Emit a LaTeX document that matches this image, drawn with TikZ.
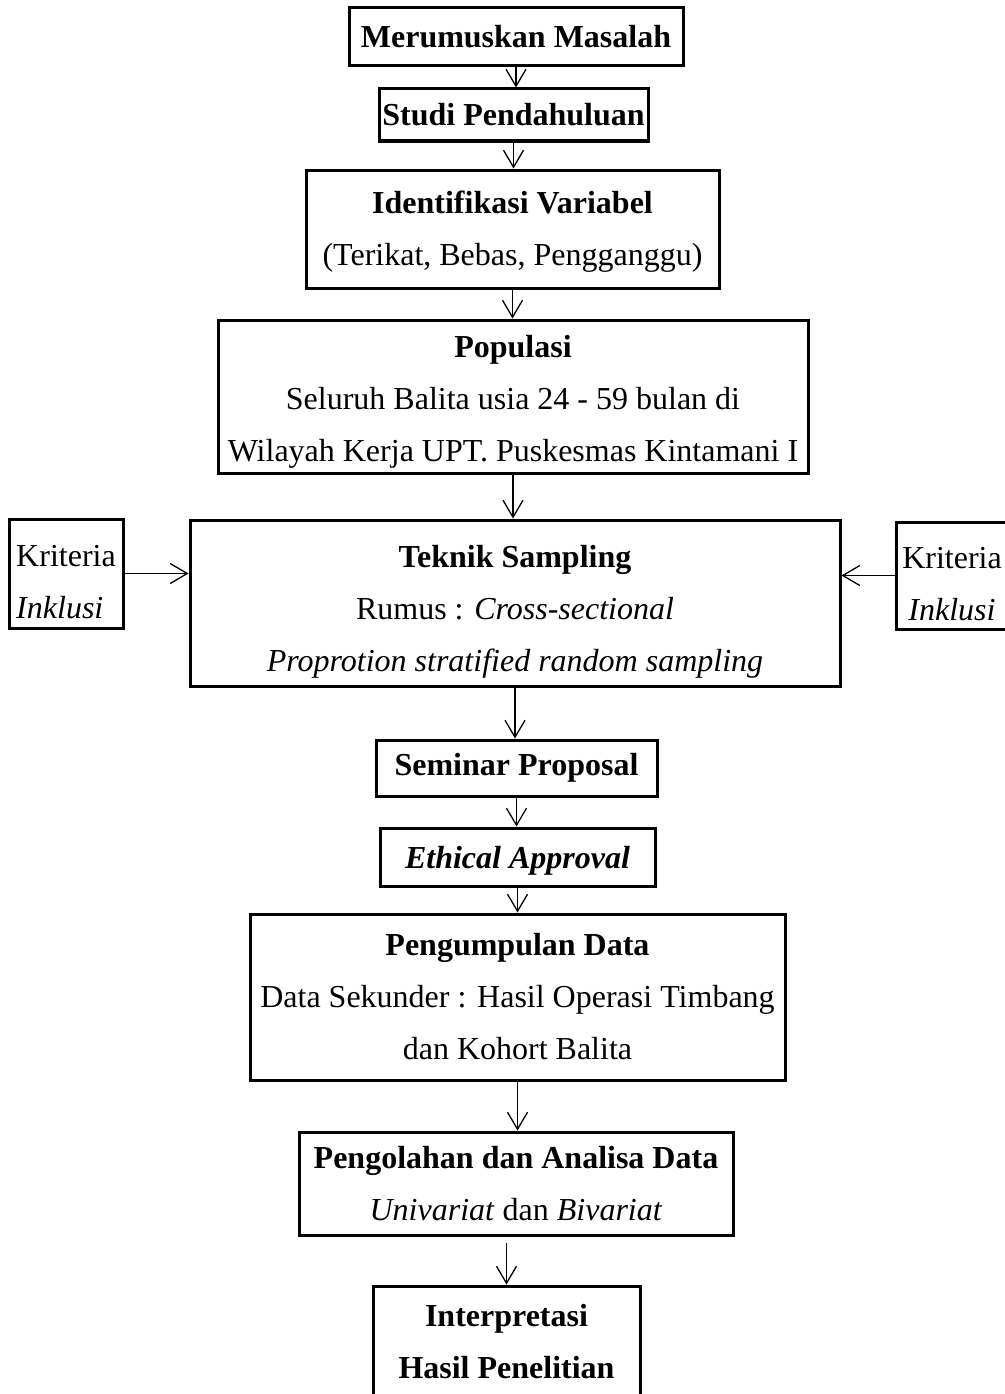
\documentclass[tikz,border=0pt]{standalone}
\usepackage{fontspec}
\setmainfont{Liberation Serif}
\usetikzlibrary{arrows.meta}
\newcommand{\turun}[1]{\rule{0pt}{#1}}

\begin{document}
\begin{tikzpicture}[x=1pt,y=-1pt,
  >={Straight Barb[length=17pt,width=20pt]},
  kotak/.style={draw,line width=3pt,inner sep=0pt,align=center,font=\fontsize{32}{52}\selectfont},
  panah/.style={->,line width=1.3pt}]
 \useasboundingbox (0,0) rectangle (1004,1394);
 \node[kotak,minimum width=334pt,minimum height=58pt] (rumus) at (516,37) {\textbf{Merumuskan Masalah}};
 \node[kotak,minimum width=269pt,minimum height=52pt] (studi) at (513.5,115) {\textbf{Studi Pendahuluan}};
 \node[kotak,minimum width=413pt,minimum height=118pt] (variabel) at (512.5,229) {\turun{28pt}\textbf{Identifikasi Variabel}\\(Terikat, Bebas, Pengganggu)};
 \node[kotak,minimum width=590pt,minimum height=153pt] (populasi) at (513,396.5) {\turun{33pt}\textbf{Populasi}\\Seluruh Balita usia 24 - 59 bulan di\\Wilayah Kerja UPT. Puskesmas Kintamani I};
 \node[kotak,minimum width=650pt,minimum height=166pt] (sampling) at (515,603) {\turun{39pt}\textbf{Teknik Sampling}\\Rumus : \textit{Cross-sectional}\\\textit{Proprotion stratified random sampling}};
 \node[kotak,align=left,minimum width=114pt,minimum height=109pt] (kiri) at (66,573.5) {\turun{38pt}Kriteria\\\textit{Inklusi}};
 \node[kotak,minimum width=112pt,minimum height=107pt] (kanan) at (952,575.5) {\turun{38pt}Kriteria\\\textit{Inklusi}};
 \node[kotak,minimum width=281pt,minimum height=56pt] (seminar) at (516.5,768) {\textbf{Seminar Proposal}};
 \node[kotak,minimum width=275pt,minimum height=58pt] (etik) at (517.5,857) {\turun{29pt}\textbf{\textit{Ethical Approval}}};
 \node[kotak,minimum width=535pt,minimum height=166pt] (data) at (517.5,997) {\textbf{Pengumpulan Data}\\Data Sekunder : Hasil Operasi Timbang\\dan Kohort Balita};
 \node[kotak,minimum width=434pt,minimum height=103pt] (olah) at (516,1183.5) {\textbf{Pengolahan dan Analisa Data}\\\textit{Univariat} dan \textit{Bivariat}};
 \node[kotak,minimum width=267pt,minimum height=112pt] (hasil) at (506.5,1342) {\textbf{Interpretasi}\\\textbf{Hasil Penelitian}};
 % alur utama
 \draw[panah] (rumus.south) -- (rumus.south |- studi.north);
 \draw[panah] (studi.south) -- (studi.south |- variabel.north);
 \draw[panah] (variabel.south) -- (variabel.south |- populasi.north);
 \draw[panah] (populasi.south) -- (populasi.south |- sampling.north);
 \draw[panah] (sampling.south) -- (sampling.south |- seminar.north);
 \draw[panah] (seminar.south) -- (seminar.south |- etik.north);
 \draw[panah] (etik.south) -- (etik.south |- data.north);
 \draw[panah] (data.south) -- (data.south |- olah.north);
 \draw[panah,shorten <=6pt] (olah.south -| hasil.north) -- (hasil.north);
 % kriteria
 \draw[panah] (kiri.east) -- (kiri.east -| sampling.west);
 \draw[panah] (kanan.west) -- (kanan.west -| sampling.east);
\end{tikzpicture}
\end{document}
